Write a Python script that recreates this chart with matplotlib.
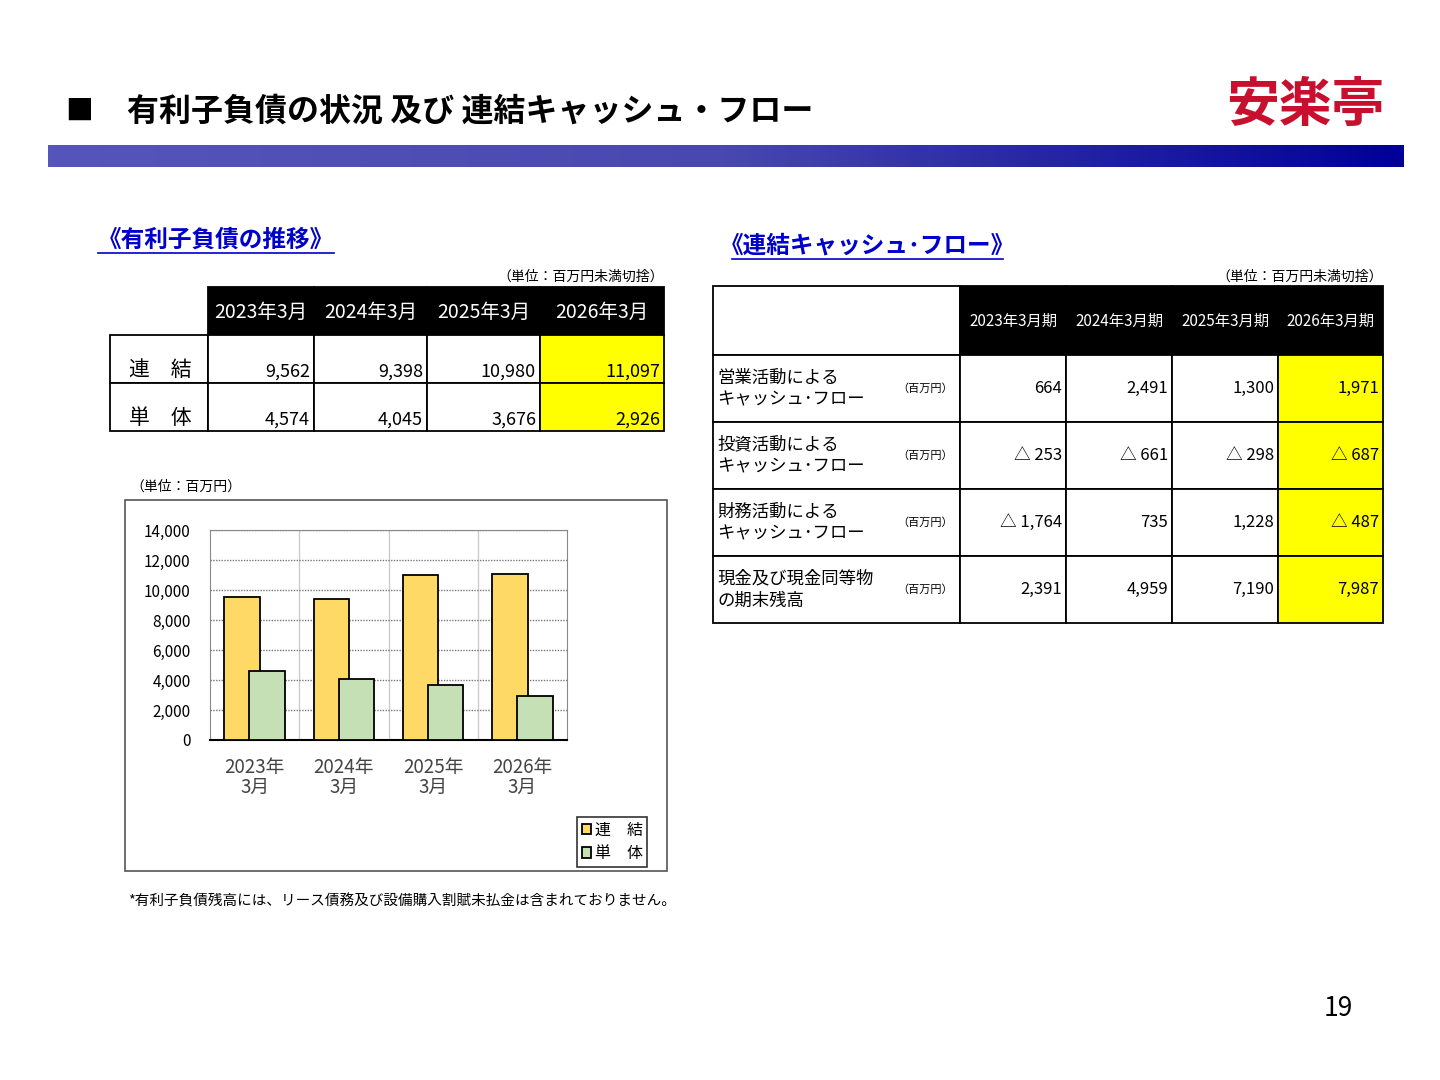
import matplotlib
matplotlib.use("Agg")
import matplotlib.pyplot as plt
import numpy as np
from matplotlib.patches import Rectangle

plt.rcParams["font.family"] = ["Noto Sans CJK JP", "DejaVu Sans"]

# debt table / chart data
years = ["2023年3月", "2024年3月", "2025年3月", "2026年3月"]
year_ticks = ["2023年\n3月", "2024年\n3月", "2025年\n3月", "2026年\n3月"]
renketsu = [9562, 9398, 10980, 11097]
tantai = [4574, 4045, 3676, 2926]

# cash flow table
cf_years = ["2023年3月期", "2024年3月期", "2025年3月期", "2026年3月期"]
cf_labels = ["営業活動による\nキャッシュ･フロー", "投資活動による\nキャッシュ･フロー",
             "財務活動による\nキャッシュ･フロー", "現金及び現金同等物\nの期末残高"]
cf_values = [["664", "2,491", "1,300", "1,971"],
             ["△ 253", "△ 661", "△ 298", "△ 687"],
             ["△ 1,764", "735", "1,228", "△ 487"],
             ["2,391", "4,959", "7,190", "7,987"]]

YELLOW_BAR = "#ffd966"
GREEN_BAR = "#c5e0b4"

fig = plt.figure(figsize=(14.4, 10.8), dpi=100)
bg = fig.add_axes([0, 0, 1, 1])
bg.axis("off")

# header
bg.text(65, 112, "■", fontsize=20, va="center", ha="left")
bg.text(127, 112, "有利子負債の状況 及び 連結キャッシュ・フロー", fontsize=23,
        fontweight="bold", va="center", ha="left")
bg.text(1305, 106, "安楽亭", fontsize=38, fontweight="bold", color="#c8102e",
        va="center", ha="center")
grad = np.linspace(0, 1, 256)[None, :]
cmap = matplotlib.colors.LinearSegmentedColormap.from_list("g", ["#5555bb", "#4848b0", "#000099"])
bg.imshow(grad, extent=(48, 1404, 167, 145), cmap=cmap, aspect="auto", zorder=1)
bg.set_xlim(0, 1440)
bg.set_ylim(1080, 0)

# section headings
def heading(x0, x1, y, s):
    bg.text((x0 + x1) / 2, y, s, fontsize=17, fontweight="bold", color="#0000cc",
            va="center", ha="center")
    bg.plot([x0, x1], [y + 13, y + 13], color="#0000cc", lw=1.2)

heading(98, 334, 240, "《有利子負債の推移》")
heading(732, 1003, 246, "《連結キャッシュ･フロー》")
bg.text(664, 277, "（単位：百万円未満切捨）", fontsize=10, ha="right", va="center")
bg.text(1383, 277, "（単位：百万円未満切捨）", fontsize=10, ha="right", va="center")

def cell(x0, y0, x1, y1, fc="white"):
    bg.add_patch(Rectangle((x0, y0), x1 - x0, y1 - y0, facecolor=fc,
                           edgecolor="black", lw=1.3, zorder=2))

# left table
lx = [110, 208, 314, 427, 540, 664]
ly = [287, 335, 383, 431]
for i, yr in enumerate(years):
    cell(lx[i + 1], ly[0], lx[i + 2], ly[1], "black")
    bg.text((lx[i + 1] + lx[i + 2]) / 2, 312, yr, color="white", fontsize=14,
            ha="center", va="center", zorder=3)
for r, (name, vals) in enumerate([("連　結", renketsu), ("単　体", tantai)]):
    y0, y1 = ly[r + 1], ly[r + 2]
    cell(lx[0], y0, lx[1], y1)
    bg.text(160, y1 - 13, name, fontsize=15, ha="center", va="center", zorder=3)
    for i, v in enumerate(vals):
        cell(lx[i + 1], y0, lx[i + 2], y1, "#ffff00" if i == 3 else "white")
        bg.text(lx[i + 2] - 4, y1 - 11, f"{v:,}", fontsize=13, ha="right",
                va="center", zorder=3)

# right table
rx = [713, 960, 1066, 1172, 1278, 1383]
ry = [286, 355, 422, 489, 556, 623]
cell(rx[0], ry[0], rx[1], ry[1])
for i, yr in enumerate(cf_years):
    cell(rx[i + 1], ry[0], rx[i + 2], ry[1], "black")
    bg.text((rx[i + 1] + rx[i + 2]) / 2, 321, yr, color="white", fontsize=11,
            ha="center", va="center", zorder=3)
for r, lab in enumerate(cf_labels):
    y0, y1 = ry[r + 1], ry[r + 2]
    cell(rx[0], y0, rx[1], y1)
    bg.text(717, (y0 + y1) / 2, lab, fontsize=12.5, ha="left", va="center",
            linespacing=1.3, zorder=3)
    bg.text(925, (y0 + y1) / 2, "（百万円）", fontsize=8, ha="center", va="center", zorder=3)
    for i, v in enumerate(cf_values[r]):
        cell(rx[i + 1], y0, rx[i + 2], y1, "#ffff00" if i == 3 else "white")
        bg.text(rx[i + 2] - 4, (y0 + y1) / 2, v, fontsize=12, ha="right",
                va="center", zorder=3)

# chart frame
bg.text(130, 487, "（単位：百万円）", fontsize=10, ha="left", va="center")
bg.add_patch(Rectangle((125, 500), 542, 371, facecolor="white", edgecolor="#555555", lw=1.2))
bg.text(128, 901, "*有利子負債残高には、リース債務及び設備購入割賦未払金は含まれておりません。",
        fontsize=10.5, ha="left", va="center")
bg.text(1338, 1008, "19", fontsize=19, ha="center", va="center")

# bar chart
ax = fig.add_axes([210 / 1440, 1 - 740 / 1080, 357 / 1440, 210 / 1080])
x = np.arange(len(years))
ax.bar(x - 0.14, renketsu, width=0.4, color=YELLOW_BAR, edgecolor="black", lw=1.3,
       label="連　結", zorder=3)
ax.bar(x + 0.14, tantai, width=0.4, color=GREEN_BAR, edgecolor="black", lw=1.3,
       label="単　体", zorder=4)
ax.set_xlim(-0.5, 3.5)
ax.set_ylim(0, 14000)
ax.set_yticks(range(0, 14001, 2000))
ax.set_yticklabels([f"{v:,}" for v in range(0, 14001, 2000)], fontsize=11)
ax.set_xticks(x)
ax.set_xticklabels(year_ticks, fontsize=13.5, color="#444444", linespacing=0.95)
ax.tick_params(axis="x", length=0, pad=12)
ax.tick_params(axis="y", length=0, pad=14)
ax.grid(axis="y", color="#777777", ls=(0, (1, 1)), lw=1, zorder=0)
for b in [0.5, 1.5, 2.5]:
    ax.axvline(b, color="#cccccc", lw=1, zorder=0)
for s in ["top", "right", "left"]:
    ax.spines[s].set_color("#888888")
ax.spines["bottom"].set_linewidth(1.5)
leg = fig.legend(loc="upper left", bbox_to_anchor=(577 / 1440, 1 - 817 / 1080),
                 fontsize=11.5, frameon=True, fancybox=False, edgecolor="black",
                 handlelength=0.6, handleheight=0.6, handletextpad=0.2,
                 borderpad=0.3, labelspacing=0.4, borderaxespad=0)
leg.get_frame().set_linewidth(1.2)

fig.savefig("out.png", dpi=100)
